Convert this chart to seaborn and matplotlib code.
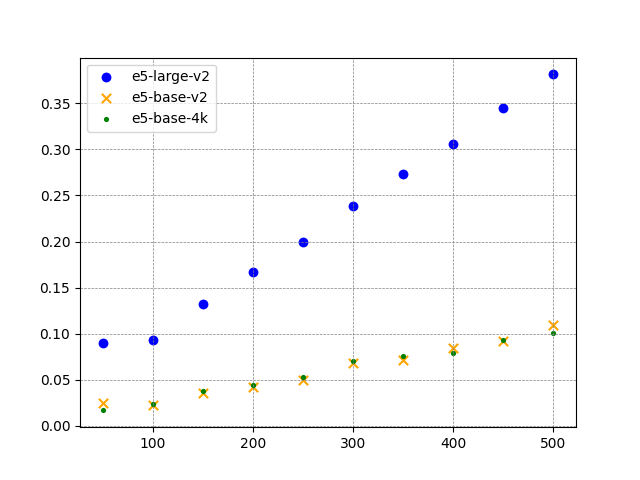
import matplotlib
matplotlib.use("Agg")
import matplotlib.pyplot as plt
import seaborn as sns
import pandas as pd

# --- data ---
sizes = [50, 100, 150, 200, 250, 300, 350, 400, 450, 500]
large_v2 = [0.0902, 0.0935, 0.1326, 0.1674, 0.2000, 0.2391, 0.2728, 0.3054, 0.3446, 0.3815]
base_v2 = [0.0246, 0.0221, 0.0359, 0.0420, 0.0500, 0.0685, 0.0717, 0.0848, 0.0916, 0.1098]
base_4k = [0.0166, 0.0239, 0.0380, 0.0446, 0.0533, 0.0707, 0.0761, 0.0786, 0.0935, 0.1011]

df = pd.DataFrame({"size": sizes, "large": large_v2, "base": base_v2, "base4k": base_4k})

fig, ax = plt.subplots(figsize=(6.4, 4.8), dpi=100)

sns.scatterplot(data=df, x="size", y="large", ax=ax, color="blue", marker="o",
                s=50, linewidth=0, label="e5-large-v2")
sns.scatterplot(data=df, x="size", y="base", ax=ax, color="orange", marker="x",
                s=45, linewidth=1.5, label="e5-base-v2")
sns.scatterplot(data=df, x="size", y="base4k", ax=ax, color="green", marker="o",
                s=14, linewidth=0, label="e5-base-4k")

ax.set_xlabel("")
ax.set_ylabel("")
ax.grid(True, linestyle="--", color="gray", linewidth=0.5)
ax.legend(loc="upper left")

fig.savefig("out.png", dpi=100)
